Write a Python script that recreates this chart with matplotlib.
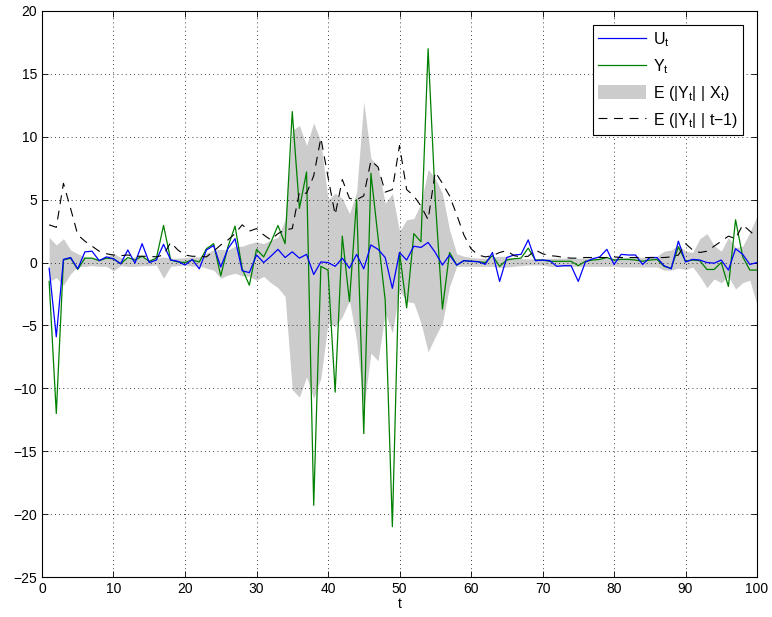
import numpy as np
import matplotlib
matplotlib.use("Agg")
import matplotlib.pyplot as plt
from matplotlib.patches import Patch
from matplotlib.lines import Line2D

plt.rcParams['font.family'] = ['Liberation Sans', 'DejaVu Sans']
plt.rcParams['mathtext.default'] = 'regular'
plt.rcParams['font.size'] = 10

# time axis
t = np.arange(1, 101)

# U_t (blue)
u = [-0.45, -5.9, 0.25, 0.4, -0.5, 0.85, 0.9, 0.15, 0.45, 0.3,
     -0.1, 1.0, -0.05, 1.5, 0.0, 0.2, 1.45, 0.2, 0.1, -0.2,
     0.25, -0.5, 1.0, 1.35, -0.35, 1.1, 1.9, -0.65, -0.8, 0.6,
     0.0, 0.5, 1.05, 0.4, 0.85, 0.35, 0.65, -0.95, 0.05, 0.0,
     -0.3, 0.35, -0.45, 0.65, -0.5, 1.4, 1.05, 0.4, -2.05, 0.8,
     0.2, 1.3, 1.2, 1.6, 0.8, -0.2, 0.6, -0.2, 0.15, 0.1,
     0.07, -0.14, 0.8, -1.5, 0.4, 0.6, 0.65, 1.8, 0.15, 0.2,
     0.15, -0.3, -0.25, -0.25, -1.5, 0.05, 0.3, 0.45, 1.05, -0.15,
     0.65, 0.6, 0.6, -0.15, 0.4, 0.4, -0.25, -0.5, 1.7, 0.05,
     0.25, 0.2, 0.0, -0.05, 0.2, -0.6, 1.1, 0.65, -0.15, 0.0]

# Y_t (green)
y = [-1.5, -12.0, 0.2, 0.35, -0.55, 0.35, 0.35, 0.15, 0.35, 0.3,
     -0.1, 0.4, 0.2, 0.5, 0.1, 0.35, 2.95, 0.2, 0.05, 0.0,
     0.2, 0.05, 1.1, 1.5, -1.05, 1.25, 2.9, -0.5, -1.8, 1.05,
     0.45, 1.6, 2.95, 1.5, 12.0, 4.3, 7.2, -19.3, -0.3, -0.6,
     -10.3, 2.1, -3.1, 5.0, -13.6, 7.1, 2.0, -3.0, -21.0, 0.8,
     -3.6, 2.3, 1.65, 17.0, 5.0, -3.7, 0.8, -0.2, 0.15, 0.1,
     0.07, 0.0, 0.55, -0.3, 0.2, 0.3, 0.35, 1.15, 0.2, 0.2,
     0.1, 0.1, 0.1, 0.1, -0.25, 0.1, 0.2, 0.25, 0.4, 0.2,
     0.25, 0.25, 0.2, 0.1, 0.2, 0.25, -0.3, -0.45, 1.25, 0.1,
     0.2, 0.15, -0.55, -0.55, 0.0, -1.9, 3.4, 0.45, -0.6, -0.6]

# E(|Y_t| | X_t) band edges
band_hi = [2.0, 1.4, 1.9, 1.0, 0.7, 0.45, 0.4, 0.3, 0.45, 0.75,
           0.4, 0.3, 0.45, 0.45, 0.25, 0.35, 0.45, 0.35, 0.35, 0.4,
           0.45, 0.45, 0.75, 1.0, 1.05, 1.0, 1.3, 1.3, 1.5, 1.65,
           1.5, 1.8, 2.0, 3.4, 10.5, 10.9, 9.3, 11.1, 9.6, 5.0,
           5.5, 5.1, 3.9, 5.6, 12.8, 8.3, 7.6, 4.7, 5.5, 2.5,
           3.4, 3.5, 4.7, 7.4, 6.7, 5.5, 2.6, 0.7, 0.5, 0.4,
           0.35, 0.35, 0.45, 0.5, 0.5, 0.35, 0.3, 0.3, 0.3, 0.3,
           0.35, 0.35, 0.35, 0.35, 0.35, 0.35, 0.35, 0.35, 0.35, 0.35,
           0.4, 0.45, 0.45, 0.4, 0.45, 0.5, 0.9, 1.0, 1.4, 0.9,
           0.8, 1.9, 2.3, 1.35, 0.9, 2.0, 1.2, 1.3, 2.4, 3.7]
band_lo = [-1.5, -1.2, -1.8, -0.9, -0.3, -0.3, -0.25, -0.3, -0.3, -0.65,
           -0.25, -0.3, -0.3, -0.25, -0.25, -0.2, -1.25, -0.3, -0.25, -0.2,
           -0.3, -0.25, -0.45, -0.6, -1.25, -1.0, -0.85, -1.05, -1.1, -1.4,
           -1.1, -1.6, -2.0, -2.7, -10.1, -10.7, -9.1, -10.8, -9.2, -4.8,
           -5.1, -4.3, -3.0, -6.2, -11.6, -7.2, -7.8, -4.0, -5.6, -2.2,
           -3.1, -3.2, -4.8, -7.1, -5.9, -4.8, -1.9, -0.3, -0.3, -0.3,
           -0.3, -0.3, -0.3, -0.4, -0.35, -0.3, -0.25, -0.2, -0.2, -0.2,
           -0.3, -0.3, -0.3, -0.3, -0.3, -0.3, -0.3, -0.3, -0.3, -0.3,
           -0.35, -0.35, -0.35, -0.35, -0.35, -0.35, -0.6, -0.6, -0.45, -0.55,
           -0.35, -1.1, -2.0, -1.3, -1.6, -1.1, -2.1, -1.6, -1.4, -3.4]

# E(|Y_t| | t-1) (dashed)
e_prev = [3.0, 2.8, 6.3, 4.3, 2.2, 1.7, 1.3, 0.9, 0.7, 0.6,
          0.55, 0.6, 0.5, 0.5, 0.5, 0.45, 0.6, 1.6, 1.0, 0.6,
          0.5, 0.5, 0.45, 0.9, 1.4, 1.8, 2.3, 3.0, 2.5, 2.7,
          2.2, 1.8, 2.3, 2.6, 2.7, 5.6, 5.5, 6.9, 9.9, 6.8,
          3.8, 6.6, 5.1, 5.0, 5.3, 8.1, 7.6, 5.6, 5.8, 9.3,
          5.8, 5.3, 4.5, 3.4, 7.2, 6.3, 5.3, 3.8, 2.2, 1.1,
          0.6, 0.45, 0.55, 0.8, 0.95, 0.55, 0.45, 0.5, 1.0, 0.7,
          0.55, 0.5, 0.4, 0.35, 0.35, 0.4, 0.4, 0.4, 0.4, 0.45,
          0.4, 0.4, 0.4, 0.4, 0.4, 0.4, 0.4, 0.45, 0.6, 1.5,
          1.0, 0.8, 0.9, 1.3, 1.7, 2.1, 1.9, 3.0, 2.5, 2.0]

fig = plt.figure(figsize=(7.72, 6.17), dpi=100)
ax = fig.add_axes([0.0544, 0.0648, 0.9262, 0.9174])

gray = '#cccccc'
ax.fill_between(t, band_lo, band_hi, color=gray, linewidth=0, zorder=1)
ax.plot(t, y, color='#008000', lw=0.9, zorder=3)
ax.plot(t, u, color='#0000ff', lw=0.9, zorder=4)
ax.plot(t, e_prev, color='black', lw=0.8, dashes=(8, 6), zorder=5)

ax.set_xlim(0, 100)
ax.set_ylim(-25, 20)
ax.set_xticks(np.arange(0, 101, 10))
ax.set_yticks(np.arange(-25, 21, 5))
ax.set_xlabel('t', labelpad=1)

ax.grid(True, color='black', linestyle=(0, (1, 4)), linewidth=0.6)
ax.tick_params(direction='in', top=True, right=True, length=4, width=0.6)
for s in ax.spines.values():
    s.set_linewidth(0.8)

handles = [Line2D([], [], color='#0000ff', lw=0.9),
           Line2D([], [], color='#008000', lw=0.9),
           Patch(facecolor=gray, edgecolor='none'),
           Line2D([], [], color='black', lw=0.8, dashes=(8, 6))]
labels = ['U$_t$', 'Y$_t$', 'E (|Y$_t$| | X$_t$)', 'E (|Y$_t$| | t\u22121)']
leg = ax.legend(handles, labels, loc='upper right', bbox_to_anchor=(0.981, 0.976),
                borderaxespad=0, fancybox=False, framealpha=1, edgecolor='black',
                handlelength=3.0, handleheight=1.0, labelspacing=0.5,
                borderpad=0.35, handletextpad=0.4, fontsize=11.5)
leg.get_frame().set_linewidth(0.8)

fig.savefig('out.png', dpi=100)
